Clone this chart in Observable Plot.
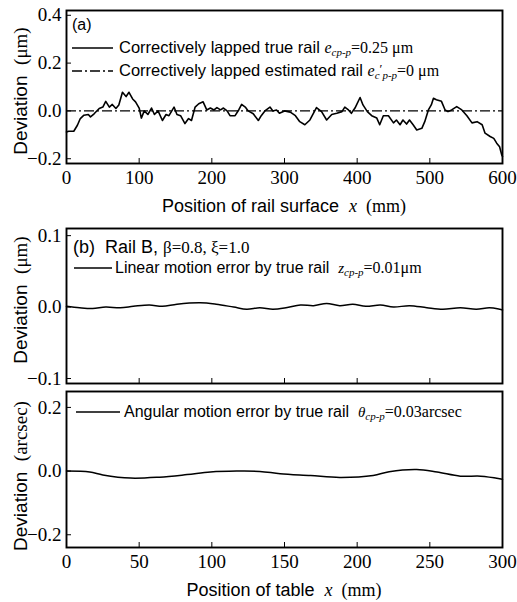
<!DOCTYPE html>
<html><head><meta charset="utf-8">
<script src="https://cdn.jsdelivr.net/npm/d3@7"></script>
<script src="https://cdn.jsdelivr.net/npm/@observablehq/plot@0.6"></script>
<style>
body{margin:0;background:#fff;}
#wrap{position:relative;width:517px;height:602px;overflow:hidden;background:#fff;}
#wrap svg{position:absolute;left:0;}
</style></head><body><div id="wrap"></div>
<script>
// Panel (a): correctively lapped true rail profile
const railX = [0,3,10,15,19,24,30,33,38,45,50,54,59,63,68,72,77,82,86,91,95,100,103,107,112,117,121,126,132,137,141,148,152,157,163,168,172,177,182,188,193,198,203,207,212,216,221,225,232,237,241,246,250,257,264,268,273,280,284,289,293,300,308,315,321,328,335,344,351,358,365,372,379,383,388,392,397,404,408,414,420,427,431,436,443,450,454,459,463,468,472,477,482,489,493,498,502,505,509,516,521,525,530,537,544,551,558,565,572,576,583,588,592,596,599,600];
const railY = [-0.088,-0.085,-0.085,-0.06,-0.032,-0.018,-0.015,-0.025,-0.012,0.01,0.016,0.04,0.016,0.027,0.01,0.025,0.078,0.06,0.078,0.05,0.038,0.012,-0.03,0,-0.015,0.012,-0.015,0,-0.04,-0.015,-0.02,0.016,-0.015,-0.02,-0.053,-0.032,-0.04,0.016,0.03,0.038,0.004,0.012,0.004,0.014,0.004,0.012,0,-0.02,-0.02,0.004,0.027,0.016,0,-0.012,-0.04,-0.02,0,0.016,0,0.004,-0.01,0,-0.005,-0.02,-0.045,-0.058,-0.038,0.014,-0.003,-0.038,-0.015,-0.01,-0.003,0.016,0.004,-0.01,0.012,0.056,0.025,-0.003,-0.02,-0.03,-0.058,-0.02,-0.02,-0.05,-0.038,-0.058,-0.038,-0.055,-0.038,-0.058,-0.08,-0.073,-0.045,0.004,0.025,0.053,0.047,0.04,0.004,-0.003,0.004,0.018,0.004,-0.02,-0.05,-0.045,-0.058,-0.093,-0.107,-0.115,-0.135,-0.15,-0.185,-0.19];
const estimatedY = [0];
// Panel (b): linear motion error
const linX = [0,9,18,27,37,46,57,66,76,92,103,115,124,133,142,151,161,170,179,188,197,206,216,225,236,248,259,271,282,291,298,300];
const linY = [0.001,-0.001,-0.002,0,-0.001,0.001,0.003,0.001,0.004,0.006,0.004,0,-0.003,-0.001,-0.003,-0.001,0.003,0.002,0.005,0.002,0.004,0.001,0.003,0,0.002,-0.001,-0.003,-0.001,-0.003,-0.001,-0.003,-0.004];
// Panel (c): angular motion error
const angX = [0,16,25,44,64,83,99,117,133,147,168,188,211,222,241,255,271,285,298,300];
const angY = [0,-0.003,-0.012,-0.022,-0.019,-0.011,-0.003,0,-0.001,-0.008,-0.014,-0.02,-0.014,-0.002,0.005,-0.003,-0.016,-0.016,-0.024,-0.026];
// Tick values
const ticksXA = [0,100,200,300,400,500,600];
const ticksYA = [-0.2,0.0,0.2,0.4];
const ticksXB = [0,50,100,150,200,250,300];
const ticksYB = [-0.1,0.0,0.1];
const ticksYC = [-0.2,0.0,0.2];

const wrap = document.getElementById("wrap");
const fmt = d3.format(".1f");
const SANS = "Liberation Sans";
const SERIF = "Liberation Serif";

function panel({top, height, mt, mb, xDomain, xTicks, xLabels, yDomain, yTicks, marks}) {
  const tickMarks = [
    Plot.text(yTicks, {y: d => d, text: d => fmt(d), frameAnchor: "left", textAnchor: "end", dx: -5,
      fontFamily: SERIF, fontSize: 19, fill: "black"})
  ];
  if (xLabels) tickMarks.push(
    Plot.text(xTicks, {x: d => d, text: d => String(d), frameAnchor: "bottom", lineAnchor: "top", dy: 7,
      fontFamily: SERIF, fontSize: 19, fill: "black"})
  );
  const svg = Plot.plot({
    width: 517, height, marginLeft: 66, marginRight: 15, marginTop: mt, marginBottom: mb,
    style: {background: "transparent", color: "black", overflow: "visible"},
    x: {domain: xDomain, label: null},
    y: {domain: yDomain, label: null},
    marks: [
      Plot.axisX(xTicks, {tickSize: -5, tickFormat: () => "", label: null}),
      Plot.axisY(yTicks, {tickSize: -5, tickFormat: () => "", label: null}),
      ...tickMarks,
      ...marks,
      Plot.frame({stroke: "black", strokeWidth: 1.9})
    ]
  });
  svg.style.top = top + "px";
  wrap.appendChild(svg);
  return d3.select(svg);
}

function rich(sel, x, y, parts, rotate, anchor) {
  const t = sel.append("text").attr("x", x).attr("y", y).attr("fill", "black")
    .attr("text-anchor", anchor || (rotate ? "middle" : "start"));
  if (rotate) t.attr("transform", `rotate(-90 ${x} ${y})`);
  for (const p of parts) {
    const s = t.append("tspan").text(p.t)
      .style("font-family", p.serif ? SERIF : SANS)
      .style("font-size", p.size + "px")
      .style("font-style", p.italic ? "italic" : "normal");
    if (p.dy) s.attr("dy", p.dy);
  }
  return t;
}
function legendLine(sel, x1, x2, y, dash) {
  sel.append("line").attr("x1", x1).attr("x2", x2).attr("y1", y).attr("y2", y)
    .attr("stroke", "black").attr("stroke-width", 1.5).attr("stroke-dasharray", dash || null);
}

// ---------- Panel (a)
const A = panel({
  top: 0, height: 225, mt: 10, mb: 62,
  xDomain: [0, 600], xTicks: ticksXA, xLabels: true,
  yDomain: [-0.22, 0.42], yTicks: ticksYA,
  marks: [
    Plot.ruleY(estimatedY, {stroke: "black", strokeWidth: 1.3, strokeDasharray: "10,3,2,3"}),
    Plot.line(railX.map((x, i) => ({x, y: railY[i]})), {x: "x", y: "y", stroke: "black", strokeWidth: 1.6})
  ]
});
rich(A, 72, 30, [{t: "(a)", size: 16}]);
legendLine(A, 72, 113, 48);
rich(A, 119, 53, [
  {t: "Correctively lapped true rail ", size: 16.5},
  {t: "e", serif: true, italic: true, size: 16},
  {t: "cp-p", serif: true, italic: true, size: 11, dy: 3},
  {t: "=0.25 μm", serif: true, size: 16, dy: -3}
]);
legendLine(A, 72, 113, 71, "10,3,2,3");
rich(A, 119, 76, [
  {t: "Correctively lapped estimated rail ", size: 16.5},
  {t: "e", serif: true, italic: true, size: 16},
  {t: "c", serif: true, italic: true, size: 11, dy: 3},
  {t: "′", serif: true, size: 13, dy: -6},
  {t: "p-p", serif: true, italic: true, size: 11, dy: 6},
  {t: "=0 μm", serif: true, size: 16, dy: -3}
]);
rich(A, 27, 91, [{t: "Deviation  ", size: 19}, {t: "(μm)", serif: true, size: 19}], true);
rich(A, 284, 212, [
  {t: "Position of rail surface  ", size: 18},
  {t: "x", serif: true, italic: true, size: 18},
  {t: "  (mm)", serif: true, size: 18}
], false, "middle");

// ---------- Panel (b)
const B = panel({
  top: 225, height: 163, mt: 3, mb: 5,
  xDomain: [0, 300], xTicks: ticksXB, xLabels: false,
  yDomain: [-0.107, 0.11], yTicks: ticksYB,
  marks: [
    Plot.line(linX.map((x, i) => ({x, y: linY[i]})), {x: "x", y: "y", stroke: "black", strokeWidth: 1.5, curve: "catmull-rom"})
  ]
});
rich(B, 73, 253 - 225, [
  {t: "(b)  Rail B, ", size: 18},
  {t: "β=0.8, ξ=1.0", serif: true, size: 17}
]);
legendLine(B, 74, 112, 268 - 225);
rich(B, 115, 273 - 225, [
  {t: "Linear motion error by true rail  ", size: 16},
  {t: "z", serif: true, italic: true, size: 15},
  {t: "cp-p", serif: true, italic: true, size: 11, dy: 3},
  {t: "=0.01μm", serif: true, size: 16, dy: -3}
]);
rich(B, 27, 300 - 225, [{t: "Deviation  ", size: 19}, {t: "(μm)", serif: true, size: 19}], true);

// ---------- Panel (c)
const C = panel({
  top: 388, height: 214, mt: 3, mb: 55,
  xDomain: [0, 300], xTicks: ticksXB, xLabels: true,
  yDomain: [-0.24, 0.25], yTicks: ticksYC,
  marks: [
    Plot.line(angX.map((x, i) => ({x, y: angY[i]})), {x: "x", y: "y", stroke: "black", strokeWidth: 1.5, curve: "catmull-rom"})
  ]
});
legendLine(C, 76, 120, 412 - 388);
rich(C, 124, 417 - 388, [
  {t: "Angular motion error by true rail  ", size: 16},
  {t: "θ", serif: true, italic: true, size: 15},
  {t: "cp-p", serif: true, italic: true, size: 11, dy: 3},
  {t: "=0.03arcsec", serif: true, size: 16, dy: -3}
]);
rich(C, 27, 476 - 388, [{t: "Deviation  ", size: 19}, {t: "(arcsec)", serif: true, size: 19}], true);
rich(C, 284, 596 - 388, [
  {t: "Position of table  ", size: 18},
  {t: "x", serif: true, italic: true, size: 18},
  {t: "  (mm)", serif: true, size: 18}
], false, "middle");
</script></body></html>
